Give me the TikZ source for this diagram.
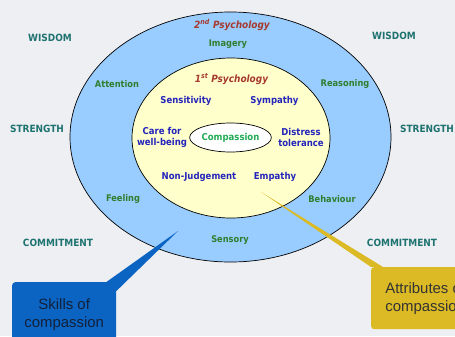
\documentclass[tikz,border=0pt]{standalone}
\usepackage{fontspec}
\setmainfont{Liberation Sans}
\newfontfamily\labelfont{DejaVu Sans Condensed}
\usetikzlibrary{shapes.geometric}
\definecolor{cbg}{HTML}{EEEFF3}
\definecolor{couter}{HTML}{99CCFF}
\definecolor{cinner}{HTML}{FFFFCC}
\definecolor{cpsy}{HTML}{A63A2E}
\definecolor{cskill}{HTML}{2F7F2F}
\definecolor{cattr}{HTML}{2424BB}
\definecolor{cqual}{HTML}{1E7370}
\definecolor{ccore}{HTML}{22AA55}
\definecolor{cblue}{HTML}{0B64C2}
\definecolor{cyellow}{HTML}{DBBA25}
\definecolor{cdark}{HTML}{13203A}
\tikzset{
  ring/.style={ellipse, draw=black, line width=0.7pt, inner sep=0pt, outer sep=0pt},
  psy/.style={font=\labelfont\bfseries\itshape\fontsize{10}{12}\selectfont, text=cpsy},
  skill/.style={font=\labelfont\bfseries\fontsize{9.2}{11}\selectfont, text=cskill},
  attr/.style={font=\labelfont\bfseries\fontsize{9.5}{11}\selectfont, text=cattr, align=center},
  quality/.style={font=\labelfont\bfseries\fontsize{10}{12}\selectfont, text=cqual},
  callbox/.style={rectangle, rounded corners=3pt, align=center, inner sep=0pt,
    font=\fontsize{15}{18}\selectfont, text=cdark},
}

\begin{document}
\begin{tikzpicture}[x=1bp, y=-1bp]
  \clip (0,0) rectangle (455,336);
  \fill[cbg] (0,0) rectangle (455,336);

  % rings: 2nd psychology, 1st psychology, core
  \node[ring, fill=couter, minimum width=321bp, minimum height=250bp] (outer) at (230.5,137) {};
  \node[ring, fill=cinner, minimum width=198bp, minimum height=160bp] (inner) at (231,138) {};
  \node[ring, fill=white, minimum width=81bp, minimum height=29bp,
    font=\labelfont\bfseries\fontsize{9.5}{11}\selectfont, text=ccore] (core) at (230.5,137.5) {Compassion};

  \node[psy] (second) at (232,25) {2\textsuperscript{nd} Psychology};
  \node[psy] (first) at (231.5,79) {1\textsuperscript{st} Psychology};

  % skills in the outer ring
  \node[skill] (imagery) at (228,44) {Imagery};
  \node[skill] (attention) at (117,84) {Attention};
  \node[skill] (reasoning) at (345,84) {Reasoning};
  \node[skill] (feeling) at (123,199) {Feeling};
  \node[skill] (behaviour) at (332,199) {Behaviour};
  \node[skill] (sensory) at (230,240) {Sensory};

  % attributes in the inner ring
  \node[attr] (sensitivity) at (186,101) {Sensitivity};
  \node[attr] (sympathy) at (274.5,101) {Sympathy};
  \node[attr] (care) at (162,137.5) {Care for\\well-being};
  \node[attr] (distress) at (301,137.5) {Distress\\tolerance};
  \node[attr] (nonjudge) at (199,177) {Non-Judgement};
  \node[attr] (empathy) at (275,177) {Empathy};

  % qualities around
  \node[quality] (wisdomL) at (50,38) {WISDOM};
  \node[quality] (wisdomR) at (394,36) {WISDOM};
  \node[quality] (strengthL) at (37,129) {STRENGTH};
  \node[quality] (strengthR) at (427,129) {STRENGTH};
  \node[quality] (commitL) at (58,243) {COMMITMENT};
  \node[quality] (commitR) at (402,243) {COMMITMENT};

  % callouts
  \node[callbox, fill=cblue, minimum width=104bp, minimum height=64bp, anchor=north west] (skills) at (12,282) {Skills of\\compassion};
  \coordinate (skilltip) at (178,231);
  \fill[cblue] ([xshift=-10bp]skills.north east) -- (skilltip) -- ([yshift=-9bp]skills.north east) -- cycle;

  \node[callbox, fill=cyellow, minimum width=108bp, minimum height=62bp, anchor=north west, text=black!80] (attrs) at (371,267) {Attributes of\\compassion};
  \coordinate (attrtip) at (261,192);
  \fill[cyellow] (attrs.north west) -- (attrtip) -- ([xshift=12bp]attrs.north west) -- cycle;
\end{tikzpicture}
\end{document}
